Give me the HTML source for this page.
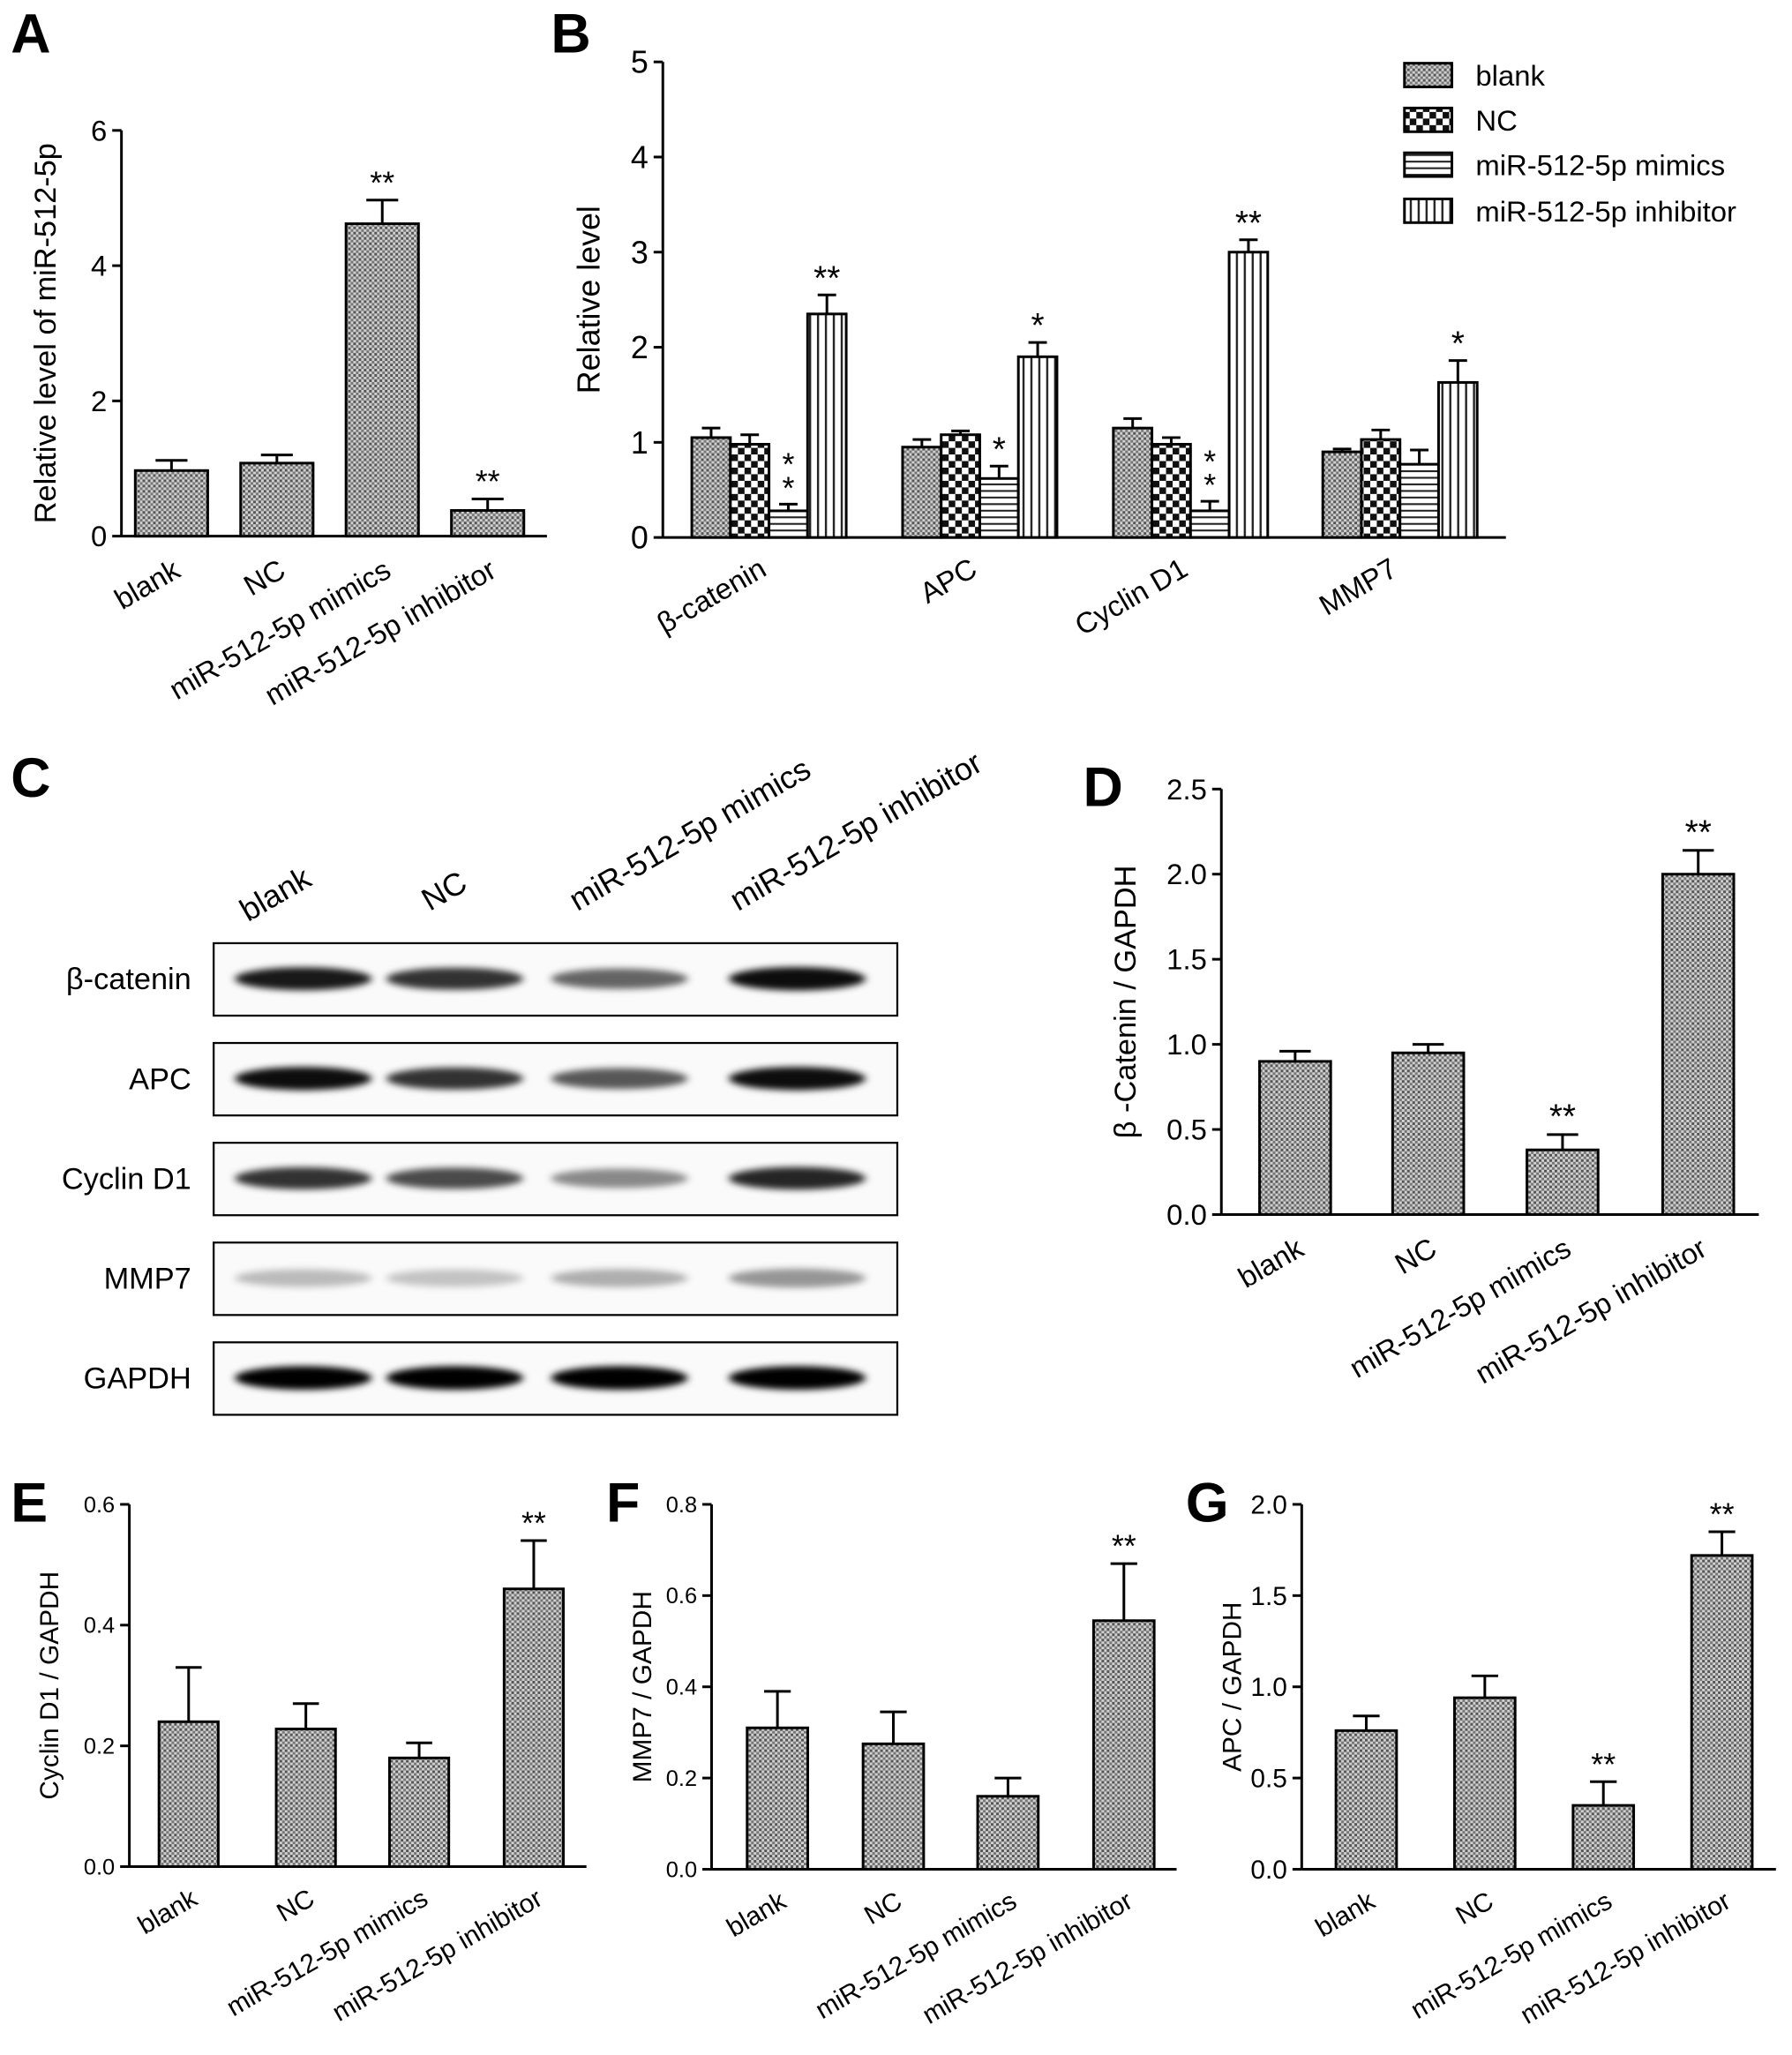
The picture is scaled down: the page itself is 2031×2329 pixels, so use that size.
<!DOCTYPE html>
<html><head><meta charset="utf-8"><style>
html,body{margin:0;padding:0;background:#fff}
svg{display:block;font-family:"Liberation Sans",Arial,sans-serif}
</style></head><body>
<svg id="fig" width="2031" height="2329" viewBox="0 0 1360 1560" xmlns="http://www.w3.org/2000/svg">
<defs>
<pattern id="pDots" width="4" height="4" patternUnits="userSpaceOnUse"><rect width="4" height="4" fill="#d0d0d0"/><rect width="2" height="2" fill="#555"/><rect x="2" y="2" width="2" height="2" fill="#777"/></pattern>
<pattern id="pCheck" width="10" height="10" patternUnits="userSpaceOnUse"><rect width="10" height="10" fill="#fff"/><rect width="5" height="5" fill="#111"/><rect x="5" y="5" width="5" height="5" fill="#111"/></pattern>
<pattern id="pH" width="6" height="5" patternUnits="userSpaceOnUse"><rect width="6" height="5" fill="#fff"/><rect y="2" width="6" height="1.4" fill="#222"/></pattern>
<pattern id="pV" width="6" height="6" patternUnits="userSpaceOnUse"><rect width="6" height="6" fill="#fff"/><rect x="2" width="1.6" height="6" fill="#222"/></pattern>
<filter id="blur" x="-20%" y="-100%" width="140%" height="300%"><feGaussianBlur stdDeviation="3 2.5"/></filter>
</defs>
</svg>
<script>
// Panel A
const catsGroups = ["blank","NC","miR-512-5p mimics","miR-512-5p inhibitor"];
const aValues = [0.97,1.08,4.62,0.38];
const aErrors = [1.12,1.2,4.97,0.55];
const aStars = ["","","**","**"];
const aTicks = [0,2,4,6];
// Panel B
const bGenes = ["β-catenin","APC","Cyclin D1","MMP7"];
const bBlank = [1.05,0.95,1.15,0.9];
const bBlankErr = [1.15,1.03,1.25,0.93];
const bNC = [0.98,1.08,0.98,1.03];
const bNCErr = [1.08,1.12,1.05,1.13];
const bMimics = [0.28,0.62,0.28,0.77];
const bMimicsErr = [0.35,0.75,0.38,0.92];
const bInhib = [2.35,1.9,3.0,1.63];
const bInhibErr = [2.55,2.05,3.13,1.86];
const bStarsMimics = [":","*",":",""];
const bStarsInhib = ["**","*","**","*"];
const bTicks = [0,1,2,3,4,5];
// Panel D
const dValues = [0.9,0.95,0.38,2.0];
const dErrors = [0.96,1.0,0.47,2.14];
const dStars = ["","","**","**"];
const dTicks = ["0.0","0.5","1.0","1.5","2.0","2.5"];
// Panel E
const eValues = [0.24,0.228,0.18,0.46];
const eErrors = [0.33,0.27,0.205,0.54];
const eStars = ["","","","**"];
const eTicks = ["0.0","0.2","0.4","0.6"];
// Panel F
const fValues = [0.31,0.275,0.16,0.545];
const fErrors = [0.39,0.345,0.2,0.67];
const fStars = ["","","","**"];
const fTicks = ["0.0","0.2","0.4","0.6","0.8"];
// Panel G
const gValues = [0.76,0.94,0.35,1.72];
const gErrors = [0.84,1.06,0.48,1.85];
const gStars = ["","","**","**"];
const gTicks = ["0.0","0.5","1.0","1.5","2.0"];
// Western blot
const wbRows = ["β-catenin","APC","Cyclin D1","MMP7","GAPDH"];
const wbIntensity = [[0.9,0.8,0.6,0.95],[0.95,0.8,0.65,0.95],[0.8,0.7,0.45,0.85],[0.25,0.22,0.3,0.4],[1,1,1,1]];

const NS="http://www.w3.org/2000/svg";
const svg=document.getElementById('fig');
function el(tag,attrs,parent){const e=document.createElementNS(NS,tag);for(const k in attrs)e.setAttribute(k,attrs[k]);(parent||svg).appendChild(e);return e;}
function txt(s,attrs,parent){const t=el('text',attrs,parent);t.textContent=s;return t;}

function panel(o){
  const g=el('g',{});
  
  
  const y=v=>o.y0-(v-o.min)/(o.max-o.min)*(o.y0-o.yTop);
  const ya=el('line',{x1:o.x0,y1:o.y0,x2:o.x0,y2:o.yTop,stroke:'#000','stroke-width':2},g);
  
  
  const xa=el('line',{x1:o.x0,y1:o.y0,x2:o.xEnd,y2:o.y0,stroke:'#000','stroke-width':2},g);
  
  
  o.ticks.forEach(t=>{const yy=y(parseFloat(t));
    el('line',{x1:o.x0-7,y1:yy,x2:o.x0,y2:yy,stroke:'#000','stroke-width':2},g);
    const tl=txt(String(t),{x:o.x0-11,y:yy+o.tfs*0.35,'text-anchor':'end','font-size':o.tfs},g);
    
    
  });
  const yt=txt(o.ytitle,{x:0,y:0,'text-anchor':'middle','font-size':o.yfs,transform:`translate(${o.ytx},${(o.y0+o.yTop)/2}) rotate(-90)`},g);
  
  
  return {g,y};
}
function simpleBars(o,vals,errs,stars){
  const {g,y}=panel(o);
  vals.forEach((v,i)=>{
    const c=o.centers[i],w=o.bw;
    const r=el('rect',{x:c-w/2,y:y(v),width:w,height:o.y0-y(v),fill:'url(#pDots)',stroke:'#000','stroke-width':2},g);
    
    
    el('line',{x1:c,y1:y(v),x2:c,y2:y(errs[i]),stroke:'#000','stroke-width':2},g);
    el('line',{x1:c-w*0.22,y1:y(errs[i]),x2:c+w*0.22,y2:y(errs[i]),stroke:'#000','stroke-width':2},g);
    if(stars[i]){const s=txt(stars[i],{x:c,y:y(errs[i])-5,'text-anchor':'middle','font-size':o.sfs},g);
      
      }
    const l=txt(catsGroups[i],{x:0,y:0,'text-anchor':'end','font-size':o.xfs,transform:`translate(${c+8},${o.y0+o.xfs+8}) rotate(-30)`},g);
    
    
  });
}
function letter(s,x,yy){const t=txt(s,{x:x,y:yy,'font-size':42,'font-weight':'bold'});
  
  }

// A
simpleBars({name:'panel-a-chart',x0:92,y0:407,yTop:99,min:0,max:6,xEnd:415,ticks:aTicks,tfs:22,ytitle:'Relative level of miR-512-5p',yfs:23,ytx:42,centers:[130,210,290,370],bw:55,sfs:24,xfs:22},aValues,aErrors,aStars);
letter('A',8,40);
// D
simpleBars({name:'panel-d-chart',x0:927,y0:922,yTop:599,min:0,max:2.5,xEnd:1335,ticks:dTicks,tfs:22,ytitle:'β -Catenin / GAPDH',yfs:23,ytx:862,centers:[983,1084,1186,1289],bw:54,sfs:26,xfs:22},dValues,dErrors,dStars);
letter('D',822,612);
// E
simpleBars({name:'panel-e-chart',x0:98,y0:1417,yTop:1142,min:0,max:0.6,xEnd:445,ticks:eTicks,tfs:17,ytitle:'Cyclin D1 / GAPDH',yfs:20,ytx:44,centers:[143,232,318,405],bw:45,sfs:24,xfs:20},eValues,eErrors,eStars);
letter('E',8,1155);
// F
simpleBars({name:'panel-f-chart',x0:540,y0:1419,yTop:1142,min:0,max:0.8,xEnd:893,ticks:fTicks,tfs:17,ytitle:'MMP7 / GAPDH',yfs:20,ytx:494,centers:[590,678,765,853],bw:46,sfs:24,xfs:20},fValues,fErrors,fStars);
letter('F',460,1155);
// G
simpleBars({name:'panel-g-chart',x0:988,y0:1419,yTop:1142,min:0,max:2.0,xEnd:1348,ticks:gTicks,tfs:20,ytitle:'APC / GAPDH',yfs:20,ytx:942,centers:[1037,1127,1217,1307],bw:46,sfs:24,xfs:20},gValues,gErrors,gStars);
letter('G',900,1155);

// B
(function(){
  const o={name:'panel-b-chart',x0:503,y0:408,yTop:47,min:0,max:5,xEnd:1143,ticks:bTicks,tfs:24,ytitle:'Relative level',yfs:24,ytx:455};
  const {g,y}=panel(o);
  const starts=[525,685,845,1004];const bw=29.3;
  const series=[[bBlank,bBlankErr,'url(#pDots)'],[bNC,bNCErr,'url(#pCheck)'],[bMimics,bMimicsErr,'url(#pH)'],[bInhib,bInhibErr,'url(#pV)']];
  bGenes.forEach((gn,i)=>{
    series.forEach((s,j)=>{
      const x=starts[i]+j*bw,v=s[0][i],e=s[1][i],c=x+bw/2;
      const r=el('rect',{x:x,y:y(v),width:bw,height:o.y0-y(v),fill:s[2],stroke:'#000','stroke-width':2},g);
      
      
      el('line',{x1:c,y1:y(v),x2:c,y2:y(e),stroke:'#000','stroke-width':2},g);
      el('line',{x1:c-7,y1:y(e),x2:c+7,y2:y(e),stroke:'#000','stroke-width':2},g);
      let st=j==2?bStarsMimics[i]:(j==3?bStarsInhib[i]:'');
      if(st===':'){txt('*',{x:c,y:y(e)-4,'text-anchor':'middle','font-size':24},g);txt('*',{x:c,y:y(e)-22,'text-anchor':'middle','font-size':24},g);}
      else if(st){const t=txt(st,{x:c,y:y(e)-4,'text-anchor':'middle','font-size':26},g);
        
        }
    });
    const l=txt(gn,{x:0,y:0,'text-anchor':'end','font-size':22,transform:`translate(${starts[i]+58},${o.y0+28}) rotate(-30)`},g);
    
    
  });
  const leg=["blank","NC","miR-512-5p mimics","miR-512-5p inhibitor"];
  leg.forEach((n,j)=>{
    const yy=[57,91,125,160][j];
    const r=el('rect',{x:1066,y:yy-9,width:36,height:18,fill:series[j][2],stroke:'#000','stroke-width':2},g);
    
    
    const t=txt(n,{x:1120,y:yy+8,'font-size':22},g);
    
    
  });
})();
letter('B',418,40);

// C western blot
(function(){
  const g=el('g',{});
  
  
  const lanes=[230,345,470,605];
  catsGroups.forEach((n,i)=>{
    const t=txt(n,{x:0,y:0,'font-size':24,transform:`translate(${[188,326,438,560][i]},${[700,692,692,692][i]}) rotate(-30)`},g);
    
    
  });
  wbRows.forEach((n,r)=>{
    const top=716+r*75.75;
    const b=el('rect',{x:162,y:top,width:519,height:55,fill:'#fafafa',stroke:'#000','stroke-width':1.5},g);
    
    
    const t=txt(n,{x:145,y:top+35,'text-anchor':'end','font-size':23},g);
    
    
    lanes.forEach((c,i)=>{
      const a=wbIntensity[r][i];
      el('ellipse',{cx:c,cy:top+27,rx:52,ry:6+a*3,fill:'#000','fill-opacity':a,filter:'url(#blur)'},g);
    });
  });
})();
letter('C',8,605);
</script>
</body></html>
